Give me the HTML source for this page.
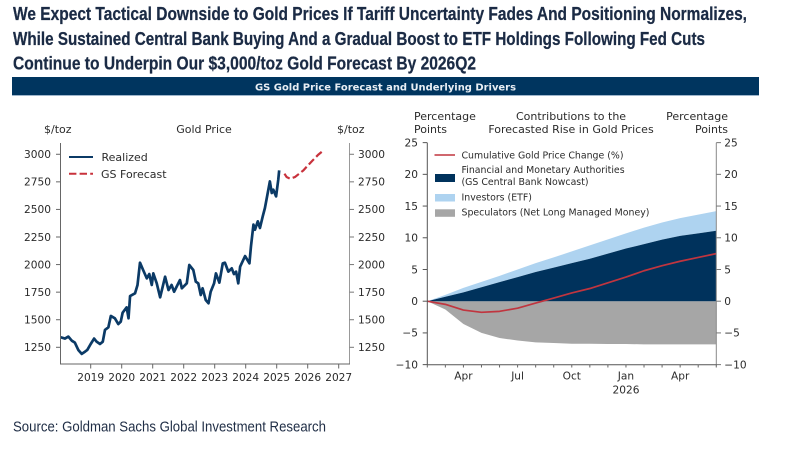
<!DOCTYPE html>
<html lang="en">
<head>
<meta charset="utf-8">
<title>GS Gold Price Forecast and Underlying Drivers</title>
<style>
html,body{margin:0;padding:0;background:#fff;width:801px;height:453px;overflow:hidden}
svg{display:block}
svg text{font-family:"DejaVu Sans",sans-serif;font-size:11px;fill:#2b2b2b}
svg text.tk{font-size:10.6px}
.hd{font-family:"Liberation Sans Narrow","Liberation Sans",sans-serif !important;font-weight:700;font-size:18px !important;fill:#1b2b45 !important;stroke:#1b2b45;stroke-width:.25px}
.src{font-family:"Liberation Sans Narrow","Liberation Sans",sans-serif !important;font-size:14.5px !important;fill:#1f2d45 !important}
svg text.lg{font-size:9.4px}
</style>
</head>
<body>
<svg id="chart" width="801" height="453" viewBox="0 0 801 453" xmlns="http://www.w3.org/2000/svg">
  <rect x="0" y="0" width="801" height="453" fill="#ffffff"/>

  <text class="hd" x="13" y="20" textLength="734" lengthAdjust="spacingAndGlyphs">We Expect Tactical Downside to Gold Prices If Tariff Uncertainty Fades And Positioning Normalizes,</text>
  <text class="hd" x="13" y="45" textLength="692" lengthAdjust="spacingAndGlyphs">While Sustained Central Bank Buying And a Gradual Boost to ETF Holdings Following Fed Cuts</text>
  <text class="hd" x="13" y="69.5" textLength="463" lengthAdjust="spacingAndGlyphs">Continue to Underpin Our $3,000/toz Gold Forecast By 2026Q2</text>

  <rect x="12" y="77" width="747" height="18" fill="#00355f"/>
  <rect x="12" y="95" width="747" height="1" fill="#9fb6cc"/>
  <text x="255" y="90.5" textLength="261" lengthAdjust="spacingAndGlyphs" style="font-size:9.5px;font-weight:700;fill:#e8eef4">GS Gold Price Forecast and Underlying Drivers</text>

  <text x="44" y="133">$/toz</text>
  <text x="204" y="133" text-anchor="middle">Gold Price</text>
  <text x="337" y="133">$/toz</text>

  <text x="414" y="120">Percentage</text>
  <text x="414" y="133">Points</text>
  <text x="571" y="120" text-anchor="middle">Contributions to the</text>
  <text x="571" y="133" text-anchor="middle">Forecasted Rise in Gold Prices</text>
  <text x="728" y="120" text-anchor="end">Percentage</text>
  <text x="728" y="133" text-anchor="end">Points</text>

  <g id="left-plot"></g>
  <g id="right-plot"></g>

  <line x1="69" y1="157" x2="93" y2="157" stroke="#0b3a66" stroke-width="2"/>
  <text x="101.5" y="160.8">Realized</text>
  <line x1="69" y1="173.7" x2="93" y2="173.7" stroke="#c8323c" stroke-width="2" stroke-dasharray="7.4 3.2"/>
  <text x="101" y="177.8">GS Forecast</text>

  <line x1="434.5" y1="155" x2="455" y2="155" stroke="#c0353f" stroke-width="1.5"/>
  <text class="lg" x="461.5" y="158.5">Cumulative Gold Price Change (%)</text>
  <rect x="435" y="174" width="20" height="8" fill="#00325c"/>
  <text class="lg" x="461.5" y="173">Financial and Monetary Authorities</text>
  <text class="lg" x="461.5" y="185">(GS Central Bank Nowcast)</text>
  <rect x="435" y="194" width="20" height="7.5" fill="#aed3f0"/>
  <text class="lg" x="461.5" y="200.5">Investors (ETF)</text>
  <rect x="435" y="209.3" width="20" height="7.5" fill="#a6a6a6"/>
  <text class="lg" x="461.5" y="215.7">Speculators (Net Long Managed Money)</text>

  <text class="src" x="13" y="431.5" textLength="313" lengthAdjust="spacingAndGlyphs">Source: Goldman Sachs Global Investment Research</text>
</svg>

<script>
// Gold price panel data
const realizedYears = [2018.03,2018.17,2018.28,2018.39,2018.49,2018.60,2018.71,2018.82,2018.89,2019.0,2019.11,2019.19,2019.30,2019.39,2019.46,2019.57,2019.65,2019.78,2019.89,2019.97,2020.03,2020.16,2020.22,2020.27,2020.43,2020.51,2020.59,2020.70,2020.81,2020.89,2020.97,2021.02,2021.13,2021.24,2021.40,2021.51,2021.61,2021.69,2021.88,2021.94,2022.10,2022.18,2022.31,2022.39,2022.47,2022.55,2022.61,2022.71,2022.80,2022.87,2022.98,2023.04,2023.15,2023.26,2023.33,2023.44,2023.55,2023.62,2023.69,2023.76,2023.82,2023.98,2024.12,2024.17,2024.25,2024.30,2024.39,2024.46,2024.55,2024.62,2024.70,2024.78,2024.84,2024.89,2024.98,2025.05,2025.08];
const realizedPrices = [1341,1329,1347,1310,1292,1226,1190,1211,1226,1280,1329,1301,1280,1301,1407,1431,1534,1513,1461,1483,1564,1612,1513,1715,1739,1815,2017,1945,1875,1914,1815,1920,1830,1703,1890,1769,1815,1754,1860,1785,1830,1996,1951,1845,1830,1724,1785,1679,1649,1754,1830,1920,1836,2011,2017,1936,1966,1914,1936,1830,1981,2077,2011,2165,2362,2316,2392,2332,2437,2513,2633,2754,2649,2679,2618,2769,2854];
const forecastYears = [2025.25,2025.32,2025.43,2025.59,2025.86,2026.13,2026.34,2026.47];
const forecastPrices = [2824,2794,2778,2794,2854,2936,2996,3026];
const priceTicks = [1250,1500,1750,2000,2250,2500,2750,3000];
const yearTicks = [2019,2020,2021,2022,2023,2024,2025,2026,2027];

// Contributions panel data (months since Feb 2025)
const monthIndex = [0,1,2,3,4,5,6,7,8,9,10,11,12,13,14,15,16];
const officialSector = [0,0.7,1.4,2.2,3.0,3.8,4.6,5.3,6.0,6.7,7.5,8.3,9.0,9.7,10.3,10.7,11.1];
const etfInvestors = [0,0.3,0.7,0.85,1.0,1.2,1.4,1.6,1.85,2.1,2.25,2.4,2.6,2.7,2.8,2.95,3.1];
const speculators = [0,-1.3,-3.6,-5.0,-5.8,-6.2,-6.5,-6.6,-6.7,-6.7,-6.75,-6.75,-6.8,-6.8,-6.8,-6.8,-6.8];
const goldChange = [0,-0.5,-1.4,-1.75,-1.6,-1.1,-0.3,0.5,1.3,2.0,2.9,3.8,4.8,5.6,6.3,6.9,7.5];
const pctTicks = [-10,-5,0,5,10,15,20,25];
const monthTicks = [0,1,2,3,4,5,6,7,8,9,10,11,12,13,14,15,16];
const monthLabelIndex = [2,5,8,11,14];
const monthLabels = ['Apr','Jul','Oct','Jan','Apr'];

const NS = 'http://www.w3.org/2000/svg';
const leftPlot = document.getElementById('left-plot');
const rightPlot = document.getElementById('right-plot');

// Axis functions
function xYear(y){ return 90.7 + (y - 2019) * 31.0; }
function yPrice(v){ return 347.3 - (v - 1250) * 0.1103; }
function xMonth(m){ return 427.3 + m * 18.06; }
function yPct(v){ return 301.2 - v * 6.343; }

function mk(tag, parent, props){
  const el = document.createElementNS(NS, tag);
  for (const k in props) el.setAttribute(k, props[k]);
  parent.appendChild(el);
  return el;
}
function linePath(xs, ys, fx, fy){
  return xs.map((x, i) => (i ? 'L' : 'M') + fx(x).toFixed(2) + ' ' + fy(ys[i]).toFixed(2)).join(' ');
}
function bandPath(xs, lo, hi, fx, fy){
  let d = xs.map((x, i) => (i ? 'L' : 'M') + fx(x).toFixed(2) + ' ' + fy(hi[i]).toFixed(2)).join(' ');
  for (let i = xs.length - 1; i >= 0; i--) d += ' L' + fx(xs[i]).toFixed(2) + ' ' + fy(lo[i]).toFixed(2);
  return d + ' Z';
}

// ---- Left panel ----
const realizedLine = mk('path', leftPlot, {d: linePath(realizedYears, realizedPrices, xYear, yPrice), fill:'none', stroke:'#0b3a66', 'stroke-width':2.7, 'stroke-linejoin':'round'});


const forecastLine = mk('path', leftPlot, {d: linePath(forecastYears, forecastPrices, xYear, yPrice), fill:'none', stroke:'#c8323c', 'stroke-width':2.2, 'stroke-dasharray':'7.4 3.2'});



const lSpineL = mk('line', leftPlot, {x1:60.5, y1:143, x2:60.5, y2:364, stroke:'#666', 'stroke-width':1});


const lSpineR = mk('line', leftPlot, {x1:349.5, y1:143, x2:349.5, y2:364, stroke:'#999', 'stroke-width':1});


const lSpineB = mk('line', leftPlot, {x1:60, y1:364, x2:350, y2:364, stroke:'#666', 'stroke-width':1});



priceTicks.forEach(v => {
  const y = yPrice(v);
  const t1 = mk('line', leftPlot, {x1:56, y1:y, x2:60.5, y2:y, stroke:'#666', 'stroke-width':1});
  
  
  const t2 = mk('line', leftPlot, {x1:349.5, y1:y, x2:354, y2:y, stroke:'#777', 'stroke-width':1});
  
  
  const l1 = mk('text', leftPlot, {x:51, y:y + 3.8, 'text-anchor':'end', 'class':'tk'});
  l1.textContent = v;
  
  
  const l2 = mk('text', leftPlot, {x:358, y:y + 3.8, 'class':'tk'});
  l2.textContent = v;
  
  
});
yearTicks.forEach(v => {
  const x = xYear(v);
  const t = mk('line', leftPlot, {x1:x, y1:364, x2:x, y2:368.5, stroke:'#666', 'stroke-width':1});
  
  
  const l = mk('text', leftPlot, {x:x, y:380.8, 'text-anchor':'middle', 'class':'tk'});
  l.textContent = v;
  
  
});

// ---- Right panel ----
const zeros = monthIndex.map(() => 0);
const etfTop = officialSector.map((v, i) => v + etfInvestors[i]);
const specArea = mk('path', rightPlot, {d: bandPath(monthIndex, zeros, speculators, xMonth, yPct), fill:'#a6a6a6'});


const etfArea = mk('path', rightPlot, {d: bandPath(monthIndex, officialSector, etfTop, xMonth, yPct), fill:'#aed3f0'});


const officialArea = mk('path', rightPlot, {d: bandPath(monthIndex, zeros, officialSector, xMonth, yPct), fill:'#00325c'});


const goldLine = mk('path', rightPlot, {d: linePath(monthIndex, goldChange, xMonth, yPct), fill:'none', stroke:'#c0353f', 'stroke-width':1.7, 'stroke-linejoin':'round'});



const rSpineL = mk('line', rightPlot, {x1:427.3, y1:142.7, x2:427.3, y2:364.7, stroke:'#555', 'stroke-width':1});


const rSpineR = mk('line', rightPlot, {x1:716.3, y1:142.7, x2:716.3, y2:364.7, stroke:'#888', 'stroke-width':1});


const rSpineB = mk('line', rightPlot, {x1:427, y1:364.7, x2:717, y2:364.7, stroke:'#555', 'stroke-width':1});



pctTicks.forEach(v => {
  const y = yPct(v);
  const t1 = mk('line', rightPlot, {x1:422.7, y1:y, x2:427.3, y2:y, stroke:'#555', 'stroke-width':1});
  
  
  const t2 = mk('line', rightPlot, {x1:716.3, y1:y, x2:721, y2:y, stroke:'#777', 'stroke-width':1});
  
  
  const txt = v < 0 ? '\u2212' + Math.abs(v) : String(v);
  const l1 = mk('text', rightPlot, {x:418, y:y + 3.8, 'text-anchor':'end', 'class':'tk'});
  l1.textContent = txt;
  
  
  const l2 = mk('text', rightPlot, {x:724.3, y:y + 3.8, 'class':'tk'});
  l2.textContent = txt;
  
  
});
monthTicks.forEach(m => {
  const x = xMonth(m);
  const t = mk('line', rightPlot, {x1:x, y1:364.7, x2:x, y2:367.5, stroke:'#666', 'stroke-width':1});
  
  
});
monthLabelIndex.forEach((m, i) => {
  const l = mk('text', rightPlot, {x:xMonth(m), y:379.5, 'text-anchor':'middle', 'class':'tk'});
  l.textContent = monthLabels[i];
  
  
});
const yearLabel = mk('text', rightPlot, {x:xMonth(11), y:393.5, 'text-anchor':'middle', 'class':'tk'});
yearLabel.textContent = '2026';


</script>
</body>
</html>
